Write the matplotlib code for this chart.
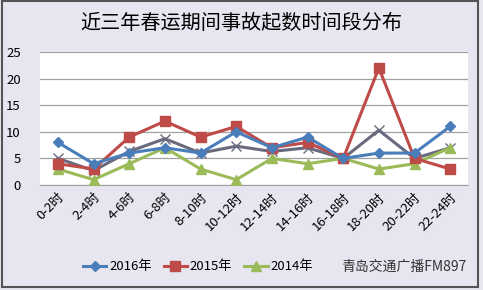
import matplotlib.pyplot as plt
import numpy as np
from matplotlib.patches import Rectangle

plt.rcParams['font.family'] = ['Noto Sans CJK SC', 'DejaVu Sans']

periods = ["0-2时", "2-4时", "4-6时", "6-8时", "8-10时", "10-12时",
           "12-14时", "14-16时", "16-18时", "18-20时", "20-22时", "22-24时"]
y2016 = [8, 4, 6, 7, 6, 10, 7, 9, 5, 6, 6, 11]
y2015 = [4, 3, 9, 12, 9, 11, 7, 8, 5, 22, 5, 3]
y2014 = [3, 1, 4, 7, 3, 1, 5, 4, 5, 3, 4, 7]
avg = [5, 2.7, 6.3, 8.7, 6, 7.3, 6.3, 7, 5, 10.3, 5, 7]

fig = plt.figure(figsize=(4.83, 2.90), dpi=100)
fig.patch.set_facecolor("#e7e5ef")
fig.patches.append(Rectangle((0.004, 0.01), 0.985, 0.985, transform=fig.transFigure,
                             fill=False, edgecolor="#555555", linewidth=1.5))

ax = fig.add_axes([0.083, 0.362, 0.886, 0.459])
ax.set_facecolor("white")
x = np.arange(len(periods))

ax.plot(x, avg, color="#6a6a7e", lw=2.2, marker="x", ms=7, mew=1, zorder=2)
ax.plot(x, y2014, color="#9bbb59", lw=2.2, marker="^", ms=7, label="2014年", zorder=3)
ax.plot(x, y2015, color="#be4b48", lw=2.2, marker="s", ms=7, label="2015年", zorder=4)
ax.plot(x, y2016, color="#4a7ebb", lw=2.2, marker="D", ms=5, label="2016年", zorder=5)

ax.set_xlim(-0.5, 11.5)
ax.set_ylim(0, 25)
ax.set_yticks(range(0, 26, 5))
ax.yaxis.grid(True, color="#a0a0a0", lw=0.9)
ax.set_axisbelow(True)
ax.set_xticks(x)
ax.set_xticklabels(periods, rotation=45, ha="right", rotation_mode="anchor", fontsize=9.5)
ax.tick_params(axis="y", labelsize=9.5, length=0, pad=14)
ax.tick_params(axis="x", length=0, pad=4)
for s in ax.spines.values():
    s.set_visible(False)
ax.spines["bottom"].set_visible(True)
ax.spines["bottom"].set_color("#a0a0a0")

fig.text(0.5, 0.92, "近三年春运期间事故起数时间段分布", ha="center", va="center", fontsize=14.5)

h, l = ax.get_legend_handles_labels()
order = [2, 1, 0]
fig.legend([h[i] for i in order], [l[i] for i in order], loc="center",
           bbox_to_anchor=(0.41, 0.08), ncol=3, frameon=False, fontsize=9.5,
           handlelength=1.8, columnspacing=0.9, handletextpad=0.2)
fig.text(0.965, 0.08, "青岛交通广播FM897", ha="right", va="center", fontsize=10,
         color="#333333")

fig.savefig("out.png", dpi=100, facecolor=fig.get_facecolor())
